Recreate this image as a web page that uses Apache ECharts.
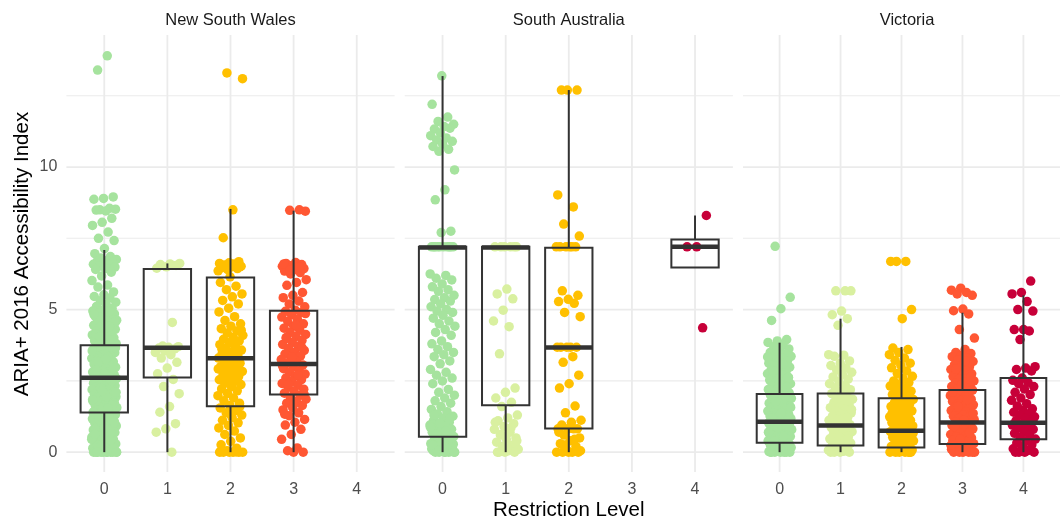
<!DOCTYPE html>
<html>
<head>
<meta charset="utf-8">
<script src="https://cdn.jsdelivr.net/npm/echarts@6/dist/echarts.min.js"></script>
<style>html,body{margin:0;padding:0;background:#fff}#c{width:1060px;height:521px}</style>
</head>
<body>
<div id="c"></div>
<script>
// ---------- data ----------
const panels = ['New South Wales', 'South Australia', 'Victoria'];
const levels = [0, 1, 2, 3, 4];
const yTicks = [0, 5, 10];
const yMinorTicks = [2.5, 7.5, 12.5];
const levelColors = ['#A6E39E', '#D9F0A0', '#FFC000', '#FF5733', '#C70039'];

// box stats: [level, lowerWhisker, q1, median, q3, upperWhisker]
const nswBox = [[0, 0, 1.39, 2.61, 3.75, 7.09], [1, 0, 2.62, 3.66, 6.42, 6.62], [2, 0, 1.61, 3.29, 6.13, 8.53], [3, 0, 2.02, 3.09, 4.96, 8.47]];
const saBox = [[0, 0, 0.54, 7.18, 7.2, 13.19], [1, 0, 1.65, 7.18, 7.2, 7.2], [2, 0, 0.83, 3.67, 7.17, 12.7], [4, 6.48, 6.48, 7.2, 7.46, 8.3]];
const vicBox = [[0, 0, 0.33, 1.07, 2.04, 3.84], [1, 0, 0.23, 0.94, 2.06, 4.68], [2, 0, 0.16, 0.75, 1.89, 3.69], [3, 0, 0.29, 1.04, 2.18, 4.89], [4, 0, 0.45, 1.03, 2.6, 5.5]];

// observed points (ARIA+ index values)
const nsw0 = [13.9, 13.4, 8.95, 8.9, 8.87, 8.55, 8.5, 8.52, 8.46, 8.49, 8.2, 8.06, 7.95, 7.72, 7.5, 7.42, 7.14, 6.96, 6.86, 6.81, 6.76, 6.71, 6.69, 6.66, 6.61, 6.59, 6.56, 6.52, 6.49, 6.44, 6.41, 6.31, 6.18, 6.02, 5.86, 5.79, 5.62, 5.52, 5.46, 5.41, 5.31, 5.26, 5.19, 5.11, 5.04,
  4.99, 4.95, 4.91, 4.87, 4.85, 4.79, 4.77, 4.71, 4.69, 4.63, 4.6, 4.57, 4.51, 4.48, 4.45, 4.39, 4.37, 4.31, 4.29, 4.23, 4.21, 4.17, 4.11, 4.09, 4.03, 4.01, 3.97, 3.91, 3.89, 3.83, 3.81, 3.77, 3.71, 3.69, 3.63, 3.61, 3.57, 3.52, 3.49, 3.43, 3.41, 3.37, 3.31, 3.29, 3.23, 3.21, 3.17, 3.12, 3.09, 3.03, 3.01,
  2.98, 2.93, 2.91, 2.89, 2.85, 2.81, 2.79, 2.76, 2.72, 2.69, 2.67, 2.63, 2.61, 2.58, 2.54, 2.52, 2.49, 2.46, 2.42, 2.39, 2.37, 2.33, 2.31, 2.28, 2.24, 2.22, 2.19, 2.16, 2.12, 2.09, 2.07, 2.03, 2.01, 1.98, 1.94, 1.92, 1.89, 1.86, 1.82, 1.79, 1.77, 1.73, 1.71, 1.68, 1.64, 1.62, 1.59, 1.56, 1.52, 1.49, 1.47, 1.43, 1.41, 1.38, 1.34, 1.32, 1.29, 1.26, 1.22, 1.19, 1.17, 1.13, 1.11, 1.08, 1.04, 1.02, 0.99, 0.96, 0.92, 0.89, 0.87, 0.83, 0.81, 0.78, 0.74, 0.72, 0.69, 0.66, 0.62, 0.59, 0.57, 0.53, 0.51, 0.48, 0.44, 0.42, 0.39, 0.36, 0.32, 0.29, 0.27, 0.23, 0.21, 0.18, 0.14, 0.12, 0.09, 0.06, 0.03, 0.01, 0, 0, 0, 0, 0, 0, 0, 0,
  4.93, 4.74, 4.55, 4.34, 4.14, 3.94, 3.74, 3.55, 3.35, 3.15, 2.96, 2.78, 2.6, 2.43, 2.26, 2.1, 1.95, 1.8, 1.66, 1.53, 1.4, 1.27, 1.15, 1.03, 0.91, 0.8, 0.68, 0.56, 0.45, 0.34, 0.24, 0.15, 0.07, 4.83, 4.42, 4.05, 3.66, 3.27, 2.87, 2.5, 2.15, 1.84, 1.55, 1.29, 1.06, 0.84, 0.63, 0.41, 0.2, 0, 0, 0];
const nsw1 = [6.62, 6.6, 6.58, 6.55, 6.5, 6.45, 4.55, 3.72, 3.7, 3.68, 3.65, 3.62, 3.55, 3.5, 3.42, 3.3, 3.15, 2.95, 2.75, 2.55, 2.3, 2.05, 1.6, 1.4, 1.0, 0.82, 0.7, 0];
const nsw2 = [13.3, 13.1, 8.5, 7.52, 6.68, 6.64, 6.62, 6.58, 6.55, 6.52, 6.5, 6.47, 6.44, 6.4, 6.36, 6.6, 6.56, 6.5, 6.15, 5.95, 5.82, 5.7, 5.55, 5.45, 5.32, 5.2, 5.05, 4.92, 4.75, 4.62, 4.5, 4.42, 4.33, 4.25, 4.18, 4.1, 4.02, 3.96, 3.9, 3.84, 3.77, 3.7, 3.64, 3.58, 3.52, 3.46, 3.41, 3.35, 3.3, 3.24, 3.18, 3.12, 3.06, 3.0, 2.95, 2.89, 2.83, 2.77, 2.71, 2.65, 2.6, 2.54, 2.48, 2.42, 2.37, 2.3, 2.22, 2.15, 2.06, 1.98, 1.9, 1.8, 1.72, 1.64, 1.55, 1.46, 1.38, 1.3, 1.21, 1.12, 1.03, 0.94, 0.85, 0.74, 0.62, 0.5, 0.38, 0.26, 0.14, 0.05, 0, 0, 0, 0, 0, 0,
  6.54, 6.46, 4.28, 3.87, 3.61, 3.38, 3.16, 2.92, 2.68, 2.45, 1.6, 1.34, 0.02, 0.01];
const nsw3 = [8.5, 8.48, 8.45, 6.65, 6.62, 6.58, 6.55, 6.52, 6.5, 6.47, 6.44, 6.4, 6.35, 6.3, 6.25, 6.05, 5.95, 5.85, 5.6, 5.5, 5.42, 5.3, 5.2, 5.1, 4.98, 4.94, 4.9, 4.82, 4.74, 4.66, 4.58, 4.5, 4.42, 4.35, 4.28, 4.2, 4.13, 4.06, 3.99, 3.92, 3.85, 3.78, 3.71, 3.64, 3.57, 3.5, 3.44, 3.38, 3.31, 3.25, 3.18, 3.12, 3.06, 3.0, 2.93, 2.86, 2.8, 2.74, 2.67, 2.6, 2.54, 2.48, 2.41, 2.35, 2.28, 2.21, 2.14, 2.07, 2.0, 1.93, 1.86, 1.79, 1.72, 1.64, 1.56, 1.48, 1.38, 1.28, 1.15, 1.05, 0.95, 0.8, 0.62, 0.45, 0.15, 0.05, 0, 0,
  6.6, 6.48, 6.38, 4.86, 4.46, 4.02, 3.68, 3.34, 3.03, 2.7, 2.38, 2.04, 1.7, 1.33];
const nsw4 = [];
const sa0 = [13.2, 12.2, 11.75, 11.6, 11.5, 11.42, 11.33, 11.36, 11.2, 11.1, 11.02, 10.95, 10.9, 10.8, 10.72, 10.62, 10.55, 9.9, 9.2, 8.85, 7.75, 7.7, 7.2, 7.2, 7.2, 7.2, 7.2, 7.2, 7.2, 7.2, 6.25, 6.2, 6.1, 6.04, 5.9, 5.8, 5.7, 5.64, 5.5, 5.42, 5.35, 5.3, 5.2, 5.1, 5.0, 4.95, 4.9, 4.8, 4.7, 4.6, 4.5, 4.42, 4.3, 4.2, 4.1, 3.9, 3.8, 3.7, 3.6, 3.5, 3.42, 3.35, 3.2, 3.1, 2.9, 2.8, 2.7, 2.6, 2.5, 2.4, 2.2, 2.1, 2.0, 1.9, 1.8, 1.72, 1.6, 1.5, 1.42, 1.34, 1.26, 1.2, 1.12, 1.05, 1.0, 0.95, 0.9, 0.85, 0.8, 0.75, 0.7, 0.65, 0.6, 0.55, 0.5, 0.45, 0.4, 0.35, 0.3, 0.25, 0.2, 0.15, 0.1, 0.05, 0, 0, 0, 0, 0, 0.02, 0.08, 0.12, 0.18, 0.22, 0.28, 0.32,
  1.3, 1.16, 1.02, 0.88, 0.74, 0.62, 0.48, 0.36, 0.24, 0.12, 0.04, 0, 0, 7.2, 7.2];
const sa1 = [7.2, 7.2, 7.2, 7.2, 7.2, 7.2, 5.72, 5.55, 5.38, 4.98, 4.6, 4.4, 3.45, 2.25, 2.1, 1.9, 1.75, 1.6, 1.3, 1.2, 1.1, 1.0, 0.9, 0.8, 0.7, 0.6, 0.5, 0.45, 0.35, 0.25, 0.2, 0.1, 0.05, 0, 0, 0, 1.05, 0.85, 0.62, 0.4, 0.15, 0];
const sa2 = [12.7, 12.7, 12.7, 9.02, 8.6, 8.0, 7.58, 7.2, 7.2, 7.2, 7.2, 7.2, 7.2, 5.66, 5.5, 5.36, 5.28, 5.22, 4.9, 4.75, 3.68, 3.68, 3.68, 3.68, 3.68, 3.35, 3.15, 2.7, 2.4, 2.25, 1.62, 1.38, 1.12, 1.05, 0.95, 0.82, 0.82, 0.82, 0.82, 0.6, 0.5, 0.4, 0.3, 0.2, 0.1, 0, 0, 0, 0, 0, 0.7, 0.45, 0.25, 0.05];
const sa3 = [];
const sa4 = [8.3, 7.2, 7.2, 4.36];
const vic0 = [7.22, 5.43, 5.03, 4.62, 3.95, 3.9, 3.85, 3.76, 3.7, 3.62, 3.55, 3.5, 3.44, 3.4, 3.36, 3.3, 3.26, 3.21, 3.16, 3.12, 3.07, 3.02, 2.98, 2.93, 2.89, 2.84, 2.8, 2.75, 2.71, 2.66, 2.62, 2.57, 2.53, 2.48, 2.44, 2.4, 2.36, 2.32, 2.28, 2.24, 2.2, 2.16, 2.12, 2.08, 2.04, 2.0, 1.96, 1.93, 1.89, 1.86, 1.82, 1.79, 1.75, 1.72, 1.68, 1.65, 1.61, 1.58, 1.54, 1.51, 1.47, 1.44, 1.4, 1.37, 1.33, 1.3, 1.27, 1.24, 1.21, 1.18, 1.15, 1.12, 1.09, 1.06, 1.03, 1.0, 0.97, 0.94, 0.91, 0.88, 0.85, 0.82, 0.79, 0.76, 0.73, 0.7, 0.67, 0.64, 0.61, 0.58, 0.55, 0.52, 0.49, 0.46, 0.43, 0.4, 0.37, 0.34, 0.31, 0.28, 0.25, 0.22, 0.19, 0.16, 0.13, 0.1, 0.07, 0.04, 0.02, 0, 0, 0, 0, 0, 0,
  3.6, 3.34, 3.1, 2.86, 2.62, 2.4, 2.18, 1.97, 1.77, 1.57, 1.38, 1.2, 1.02, 0.86, 0.7, 0.55, 0.4, 0.26, 0.12, 0];
const vic1 = [5.66, 5.66, 5.66, 4.95, 4.82, 4.68, 4.45, 3.42, 3.4, 3.36, 3.2, 3.12, 3.04, 2.95, 2.88, 2.8, 2.72, 2.64, 2.56, 2.48, 2.4, 2.33, 2.26, 2.19, 2.12, 2.05, 1.98, 1.92, 1.86, 1.8, 1.74, 1.68, 1.62, 1.56, 1.5, 1.44, 1.38, 1.32, 1.27, 1.22, 1.17, 1.12, 1.07, 1.02, 0.97, 0.92, 0.87, 0.82, 0.77, 0.72, 0.67, 0.62, 0.57, 0.52, 0.47, 0.42, 0.37, 0.32, 0.27, 0.22, 0.17, 0.12, 0.07, 0.03, 0, 0, 0, 0,
  2.3, 1.9, 1.5, 1.15, 0.8, 0.45, 0.1];
const vic2 = [6.69, 6.69, 6.69, 5.0, 4.68, 3.65, 3.6, 3.5, 3.42, 3.3, 3.22, 3.12, 3.04, 2.96, 2.85, 2.76, 2.66, 2.58, 2.5, 2.44, 2.38, 2.32, 2.26, 2.2, 2.14, 2.08, 2.02, 1.96, 1.9, 1.85, 1.8, 1.75, 1.7, 1.65, 1.6, 1.55, 1.5, 1.45, 1.4, 1.36, 1.32, 1.28, 1.24, 1.2, 1.16, 1.12, 1.08, 1.04, 1.0, 0.96, 0.92, 0.88, 0.84, 0.8, 0.76, 0.72, 0.68, 0.64, 0.6, 0.56, 0.52, 0.48, 0.44, 0.4, 0.36, 0.32, 0.28, 0.24, 0.2, 0.16, 0.12, 0.08, 0.04, 0.02, 0, 0, 0, 0, 0, 0,
  1.62, 1.38, 1.14, 0.9, 0.66, 0.42, 0.18, 0];
const vic3 = [5.75, 5.68, 5.6, 5.55, 5.5, 5.02, 4.96, 4.85, 4.3, 4.0, 3.6, 3.5, 3.46, 3.4, 3.35, 3.3, 3.24, 3.18, 3.12, 3.06, 3.0, 2.95, 2.9, 2.85, 2.8, 2.75, 2.7, 2.65, 2.6, 2.55, 2.5, 2.46, 2.42, 2.38, 2.34, 2.3, 2.26, 2.22, 2.18, 2.14, 2.1, 2.06, 2.02, 1.98, 1.94, 1.9, 1.86, 1.82, 1.78, 1.74, 1.7, 1.66, 1.62, 1.58, 1.54, 1.5, 1.46, 1.42, 1.38, 1.34, 1.3, 1.26, 1.22, 1.18, 1.14, 1.1, 1.06, 1.02, 0.98, 0.94, 0.9, 0.86, 0.82, 0.78, 0.74, 0.7, 0.66, 0.62, 0.58, 0.54, 0.5, 0.46, 0.42, 0.38, 0.34, 0.3, 0.26, 0.22, 0.18, 0.14, 0.1, 0.06, 0.03, 0, 0, 0, 0, 0, 0,
  3.2, 2.92, 2.64, 2.36, 2.1, 1.84, 1.6, 1.36, 1.12, 0.9, 0.68, 0.46, 0.24, 0.04];
const vic4 = [6.0, 5.6, 5.55, 5.28, 5.0, 4.95, 4.3, 4.3, 4.25, 3.95, 3.0, 2.95, 2.9, 2.85, 2.6, 2.52, 2.45, 2.4, 2.3, 2.22, 2.1, 2.02, 1.9, 1.82, 1.7, 1.62, 1.52, 1.46, 1.4, 1.35, 1.3, 1.24, 1.18, 1.1, 1.05, 1.0, 0.95, 0.9, 0.85, 0.8, 0.72, 0.66, 0.6, 0.52, 0.46, 0.4, 0.32, 0.26, 0.2, 0.12, 0.06, 0, 0, 0, 0];

const pointsByPanel = [[nsw0, nsw1, nsw2, nsw3, nsw4], [sa0, sa1, sa2, sa3, sa4], [vic0, vic1, vic2, vic3, vic4]];
const boxesByPanel = [nswBox, saBox, vicBox];

// ---------- layout ----------
const FONT = 'Liberation Sans, Arial, sans-serif';
const gridLefts = [66.4, 404.7, 743];
const gridWidth = 328.2;
const gridTop = 35, gridHeight = 437;
const Y_MIN = -0.695, Y_MAX = 14.63;
const X_MIN = -0.6, X_MAX = 4.6;
const JITTER = 0.2;

function jitter(i, g) {
  const f = ((i + 1) * 0.6180339887 + g * 0.37) % 1;
  return (f * 2 - 1) * JITTER;
}

const grid = [], xAxis = [], yAxis = [], series = [];
panels.forEach((name, p) => {
  grid.push({ left: gridLefts[p], top: gridTop, width: gridWidth, height: gridHeight, containLabel: false });
  xAxis.push({
    type: 'value', gridIndex: p, min: X_MIN, max: X_MAX,
    axisLine: { show: false }, axisTick: { show: false }, splitLine: { show: false },
    axisLabel: { customValues: levels, color: '#4D4D4D', fontSize: 16, fontFamily: FONT, margin: 10, formatter: v => String(v) }
  });
  yAxis.push({
    type: 'value', gridIndex: p, min: Y_MIN, max: Y_MAX,
    axisLine: { show: false }, axisTick: { show: false }, splitLine: { show: false },
    axisLabel: { show: p === 0, customValues: yTicks, color: '#4D4D4D', fontSize: 16, fontFamily: FONT, margin: 9, formatter: v => String(v) }
  });

  // gridlines
  const gl = [];
  yTicks.forEach(v => gl.push(['h', v, 1]));
  yMinorTicks.forEach(v => gl.push(['h', v, 0]));
  levels.forEach(v => gl.push(['v', v, 1]));
  series.push({
    type: 'custom', xAxisIndex: p, yAxisIndex: p, z: 1, silent: true,
    data: gl.map((d, i) => [i]),
    renderItem: function (params, api) {
      const d = gl[params.dataIndex];
      const cs = params.coordSys;
      let shape;
      if (d[0] === 'h') {
        const pt = api.coord([0, d[1]]);
        shape = { x1: cs.x, y1: pt[1], x2: cs.x + cs.width, y2: pt[1] };
      } else {
        const pt = api.coord([d[1], 0]);
        shape = { x1: pt[0], y1: cs.y, x2: pt[0], y2: cs.y + cs.height };
      }
      return { type: 'line', shape: shape, style: { stroke: '#EBEBEB', lineWidth: d[2] ? 1.8 : 1.1 } };
    }
  });

  // points
  pointsByPanel[p].forEach((vals, l) => {
    if (!vals.length) return;
    series.push({
      type: 'scatter', xAxisIndex: p, yAxisIndex: p, z: 3, silent: true,
      symbolSize: 9.5,
      itemStyle: { color: levelColors[l], opacity: 1 },
      data: vals.map((v, i) => [levels[l] + jitter(i, l + p * 5), v])
    });
  });

  // boxes
  series.push({
    type: 'custom', xAxisIndex: p, yAxisIndex: p, z: 5, silent: true,
    encode: { x: 0, y: [1, 2, 3, 4, 5] },
    data: boxesByPanel[p],
    renderItem: function (params, api) {
      const x = api.value(0);
      const lo = api.coord([x, api.value(1)]);
      const q1 = api.coord([x, api.value(2)]);
      const md = api.coord([x, api.value(3)]);
      const q3 = api.coord([x, api.value(4)]);
      const hi = api.coord([x, api.value(5)]);
      const hw = api.size([0.375, 0])[0];
      const cx = q1[0];
      const st = { stroke: '#333333', lineWidth: 2, fill: null };
      return {
        type: 'group',
        children: [
          { type: 'line', shape: { x1: cx, y1: q3[1], x2: cx, y2: hi[1] }, style: st },
          { type: 'line', shape: { x1: cx, y1: q1[1], x2: cx, y2: lo[1] }, style: st },
          { type: 'rect', shape: { x: cx - hw, y: q3[1], width: 2 * hw, height: q1[1] - q3[1] }, style: { stroke: '#333333', lineWidth: 2, fill: 'rgba(0,0,0,0)' } },
          { type: 'line', shape: { x1: cx - hw, y1: md[1], x2: cx + hw, y2: md[1] }, style: { stroke: '#333333', lineWidth: 4.5 } }
        ]
      };
    }
  });
});

const graphic = [];
panels.forEach((name, p) => {
  graphic.push({
    type: 'text', x: gridLefts[p] + gridWidth / 2, y: 20.5,
    style: { text: name, font: '16.5px ' + FONT, fill: '#1A1A1A', textAlign: 'center', textVerticalAlign: 'middle' }
  });
});
graphic.push({
  type: 'text', x: gridLefts[1] + gridWidth / 2, y: 510,
  style: { text: 'Restriction Level', font: '20.5px ' + FONT, fill: '#000', textAlign: 'center', textVerticalAlign: 'middle' }
});
graphic.push({
  type: 'text', x: 22, y: 254, rotation: Math.PI / 2,
  style: { text: 'ARIA+ 2016 Accessibility Index', font: '20.5px ' + FONT, fill: '#000', textAlign: 'center', textVerticalAlign: 'middle' }
});

const chart = echarts.init(document.getElementById('c'), null, { renderer: 'canvas' });
chart.setOption({
  backgroundColor: '#fff',
  animation: false,
  grid, xAxis, yAxis, series, graphic
});
</script>
</body>
</html>
